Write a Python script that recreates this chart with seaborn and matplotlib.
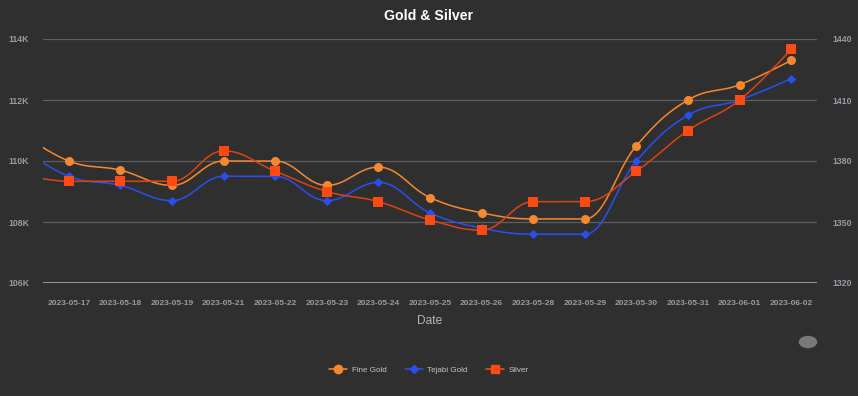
import numpy as np
import pandas as pd
import matplotlib
matplotlib.use("Agg")
import matplotlib.pyplot as plt
import seaborn as sns
from matplotlib.lines import Line2D
from matplotlib.patches import Ellipse

# ------------------------------------------------------------
# Data
# first entry (2023-05-16) sits just outside the visible range
# ------------------------------------------------------------
dates = ["2023-05-16", "2023-05-17", "2023-05-18", "2023-05-19", "2023-05-21",
         "2023-05-22", "2023-05-23", "2023-05-24", "2023-05-25", "2023-05-26",
         "2023-05-28", "2023-05-29", "2023-05-30", "2023-05-31", "2023-06-01",
         "2023-06-02"]
fine_gold = [111000, 110000, 109700, 109200, 110000, 110000, 109200, 109800,
             108800, 108300, 108100, 108100, 110500, 112000, 112500, 113300]
tejabi_gold = [110500, 109500, 109200, 108700, 109500, 109500, 108700, 109300,
               108300, 107800, 107600, 107600, 110000, 111500, 112000, 112700]
silver = [1374, 1370, 1370, 1370, 1385, 1375, 1365, 1360,
          1351, 1346, 1360, 1360, 1375, 1395, 1410, 1435]

BG = "#2f2f2f"
GRID = "#5e5e5e"
TICK = "#9a9aa2"
C_FINE = "#f7882f"
C_TEJ = "#2a4ff0"
C_SIL = "#ff4b12"
C_SIL_LINE = "#dc4412"

sns.set_theme(style="dark")
plt.rcParams["font.family"] = ["Liberation Sans", "DejaVu Sans"]


# ------------------------------------------------------------
# Highcharts-like spline (bezier through the points)
# ------------------------------------------------------------
def spline(xs, ys, smoothing=1.5, steps=30):
    xs = np.asarray(xs, float)
    ys = np.asarray(ys, float)
    n = len(xs)
    left = [(xs[i], ys[i]) for i in range(n)]
    right = [(xs[i], ys[i]) for i in range(n)]
    d = smoothing + 1
    for i in range(1, n - 1):
        lx = (smoothing * xs[i] + xs[i - 1]) / d
        ly = (smoothing * ys[i] + ys[i - 1]) / d
        rx = (smoothing * xs[i] + xs[i + 1]) / d
        ry = (smoothing * ys[i] + ys[i + 1]) / d
        corr = (ry - ly) * (rx - xs[i]) / (rx - lx) + ys[i] - ry
        ly += corr
        ry += corr
        if ly > ys[i - 1] and ly > ys[i]:
            ly = max(ys[i - 1], ys[i]); ry = 2 * ys[i] - ly
        elif ly < ys[i - 1] and ly < ys[i]:
            ly = min(ys[i - 1], ys[i]); ry = 2 * ys[i] - ly
        if ry > ys[i + 1] and ry > ys[i]:
            ry = max(ys[i + 1], ys[i]); ly = 2 * ys[i] - ry
        elif ry < ys[i + 1] and ry < ys[i]:
            ry = min(ys[i + 1], ys[i]); ly = 2 * ys[i] - ry
        left[i] = (lx, ly)
        right[i] = (rx, ry)
    t = np.linspace(0, 1, steps)
    out_x, out_y = [], []
    for i in range(n - 1):
        p0 = np.array([xs[i], ys[i]])
        p1 = np.array(right[i])
        p2 = np.array(left[i + 1])
        p3 = np.array([xs[i + 1], ys[i + 1]])
        pts = ((1 - t) ** 3)[:, None] * p0 + (3 * (1 - t) ** 2 * t)[:, None] * p1 \
            + (3 * (1 - t) * t ** 2)[:, None] * p2 + (t ** 3)[:, None] * p3
        out_x.extend(pts[:, 0]); out_y.extend(pts[:, 1])
    return np.array(out_x), np.array(out_y)


df = pd.DataFrame({"date": dates, "fine": fine_gold, "tejabi": tejabi_gold, "silver": silver})
df["pos"] = np.arange(len(df))

fig = plt.figure(figsize=(8.58, 3.96), dpi=100, facecolor=BG)
ax = fig.add_axes([43 / 858, 1 - 283 / 396, 774 / 858, 244 / 396])
ax.set_facecolor(BG)
ax2 = ax.twinx()

# smooth lines
for col, color, axis in [("fine", C_FINE, ax), ("tejabi", C_TEJ, ax), ("silver", C_SIL_LINE, ax2)]:
    sx, sy = spline(df["pos"], df[col])
    sns.lineplot(x=sx, y=sy, ax=axis, color=color, lw=1.1, sort=False, estimator=None, zorder=3)

# markers
sns.scatterplot(data=df, x="pos", y="fine", ax=ax, color=C_FINE, marker="o", s=42,
                linewidth=0, zorder=4)
sns.scatterplot(data=df, x="pos", y="tejabi", ax=ax, color=C_TEJ, marker="D", s=22,
                linewidth=0, zorder=4)
sns.scatterplot(data=df, x="pos", y="silver", ax=ax2, color=C_SIL, marker="s", s=50,
                linewidth=0, zorder=4)

ax.set_xlim(0.5, len(df) - 0.5)
ax.set_ylim(106000, 114000)
ax2.set_ylim(1320, 1440)

ax.set_yticks([106000, 108000, 110000, 112000, 114000])
ax.set_yticklabels(["106K", "108K", "110K", "112K", "114K"])
ax2.set_yticks([1320, 1350, 1380, 1410, 1440])
ax.set_xticks(df["pos"][1:])
ax.set_xticklabels(df["date"][1:])

ax.grid(axis="y", color=GRID, lw=0.9)
ax.grid(axis="x", visible=False)
ax2.grid(False)
for a in (ax, ax2):
    for s in a.spines.values():
        s.set_visible(False)
ax.axhline(106000, color="#a8a8a8", lw=1.2, zorder=2)

ax.tick_params(axis="y", length=0, pad=10, labelsize=6.3, labelcolor=TICK)
ax2.tick_params(axis="y", length=0, pad=11, labelsize=6.3, labelcolor=TICK)
ax.tick_params(axis="x", length=0, pad=12, labelsize=6, labelcolor=TICK)
for lab in ax.get_xticklabels() + ax.get_yticklabels() + ax2.get_yticklabels():
    lab.set_fontweight("bold")

ax.set_xlabel("Date", color="#b4b4bc", fontsize=8.6, labelpad=6)
ax.set_ylabel("")
ax2.set_ylabel("")

fig.suptitle("Gold & Silver", color="white", fontsize=10.2, fontweight="bold", y=0.978)

handles = [
    Line2D([], [], color=C_FINE, marker="o", markersize=6, lw=1.1),
    Line2D([], [], color=C_TEJ, marker="D", markersize=4.5, lw=1.1),
    Line2D([], [], color=C_SIL, marker="s", markersize=6, lw=1.1),
]
fig.legend(handles, ["Fine Gold", "Tejabi Gold", "Silver"], loc="center",
           bbox_to_anchor=(0.5, 1 - 370 / 396), ncol=3, frameon=False,
           fontsize=5.8, labelcolor="#c4c4c4", handlelength=2.2, columnspacing=2.3,
           handletextpad=0.6)

# range-selector knob at bottom right
fig.patches.append(Ellipse((808 / 858, 1 - 342 / 396), 17 / 858, 11 / 396,
                           transform=fig.transFigure, color="#7a7a7a", figure=fig))

fig.savefig("out.png", dpi=100, facecolor=BG)
